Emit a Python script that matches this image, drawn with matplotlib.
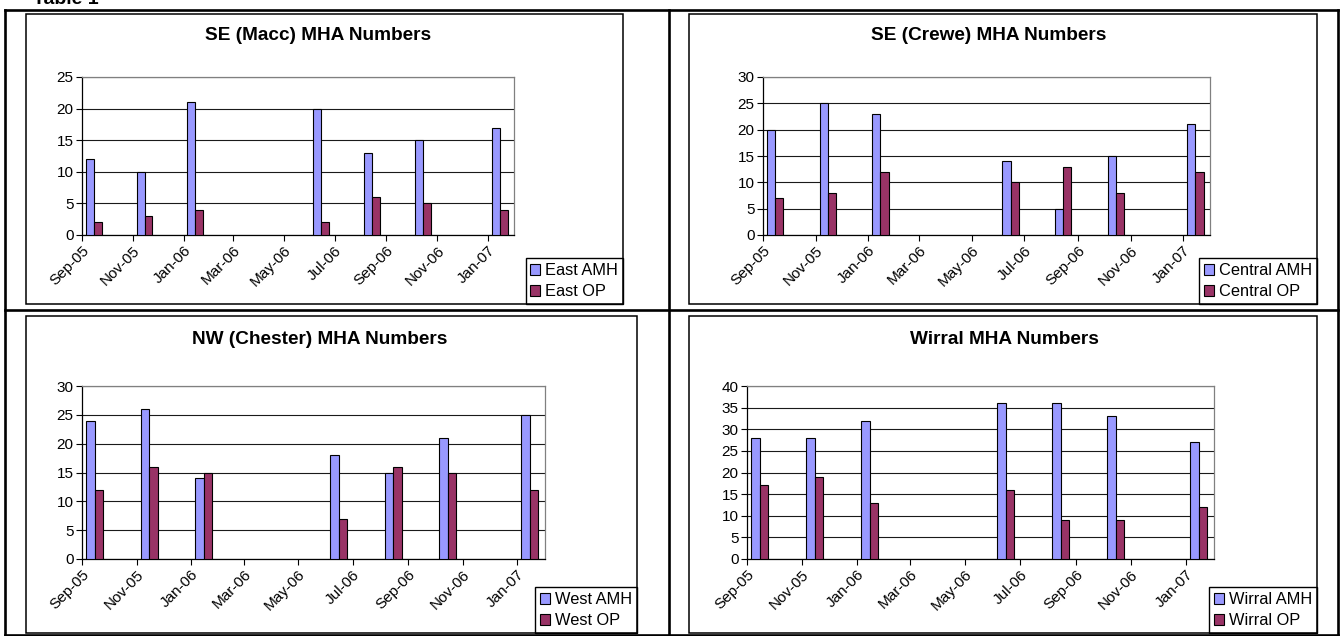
import matplotlib
matplotlib.use('Agg')
import matplotlib.pyplot as plt
import matplotlib.dates as mdates
from matplotlib.patches import Rectangle
from matplotlib.lines import Line2D
import numpy as np

plt.rcParams['font.family'] = ['Liberation Sans', 'DejaVu Sans']

# data (one reading per period, plotted on a monthly date axis)
dates = ['2005-09-15', '2005-11-15', '2006-01-15', '2006-06-15',
         '2006-08-15', '2006-10-15', '2007-01-15']

east_amh = [12, 10, 21, 20, 13, 15, 17]
east_op = [2, 3, 4, 2, 6, 5, 4]
central_amh = [20, 25, 23, 14, 5, 15, 21]
central_op = [7, 8, 12, 10, 13, 8, 12]
west_amh = [24, 26, 14, 18, 15, 21, 25]
west_op = [12, 16, 15, 7, 16, 15, 12]
wirral_amh = [28, 28, 32, 36, 36, 33, 27]
wirral_op = [17, 19, 13, 16, 9, 9, 12]

titles = ['SE (Macc) MHA Numbers', 'SE (Crewe) MHA Numbers',
          'NW (Chester) MHA Numbers', 'Wirral MHA Numbers']
series_names = [('East AMH', 'East OP'), ('Central AMH', 'Central OP'),
                ('West AMH', 'West OP'), ('Wirral AMH', 'Wirral OP')]
y_max = [25, 30, 30, 40]

W, H = 1342, 636

# layout in pixels: plot area (x0, y0, x1, y1), chart box, legend corner, title centre
layout = [
    dict(plot=(82, 77, 514, 235), box=(26, 14, 623, 304), leg=(623, 304), title=(318, 36)),
    dict(plot=(763, 77, 1210, 235), box=(689, 14, 1317, 304), leg=(1317, 304), title=(989, 36)),
    dict(plot=(82, 386, 545, 559), box=(26, 316, 637, 633), leg=(637, 633), title=(320, 340)),
    dict(plot=(747, 386, 1214, 559), box=(689, 316, 1317, 633), leg=(1317, 633), title=(1004, 340)),
]

values = [(east_amh, east_op), (central_amh, central_op),
          (west_amh, west_op), (wirral_amh, wirral_op)]

BLUE = '#9999FF'
PLUM = '#993366'

fig = plt.figure(figsize=(W / 100, H / 100), dpi=100)


def fx(px):
    return px / W


def fy(py):
    return 1 - py / H


# outer table lines
for (x0, y0, x1, y1) in [(5, 10, 1338, 10), (5, 310, 1338, 310), (5, 635, 1338, 635),
                         (5, 10, 5, 636), (669, 10, 669, 636), (1338, 10, 1338, 636)]:
    fig.add_artist(Line2D([fx(x0), fx(x1)], [fy(y0), fy(y1)], color='black',
                          lw=1.9, transform=fig.transFigure))

# heading above the table, cut off by the top edge as in the source page
fig.text(fx(33), fy(4), 'Table 1', fontsize=14, fontweight='bold',
         va='baseline', ha='left')

x = mdates.date2num(np.array(dates, dtype='datetime64[D]'))
w = 9.5  # bar width in days

for i in range(4):
    lay = layout[i]
    bx0, by0, bx1, by1 = lay['box']
    fig.add_artist(Rectangle((fx(bx0), fy(by1)), fx(bx1 - bx0), (by1 - by0) / H,
                             fill=False, edgecolor='black', lw=1.1,
                             transform=fig.transFigure))

    px0, py0, px1, py1 = lay['plot']
    ax = fig.add_axes([fx(px0), fy(py1), fx(px1 - px0), (py1 - py0) / H])
    amh, op = values[i]
    n1, n2 = series_names[i]
    ax.bar(x - w, amh, w, align='edge', color=BLUE, edgecolor='black', lw=0.8,
           label=n1, zorder=3)
    ax.bar(x, op, w, align='edge', color=PLUM, edgecolor='black', lw=0.8,
           label=n2, zorder=3)

    ax.set_ylim(0, y_max[i])
    ax.set_yticks(np.arange(0, y_max[i] + 1, 5))
    ax.yaxis.grid(True, color='#1a1a1a', lw=0.8, zorder=0)
    ax.set_xlim(mdates.date2num(np.datetime64('2005-09-01')),
                mdates.date2num(np.datetime64('2007-02-01')))
    ax.xaxis.set_major_locator(mdates.MonthLocator(bymonth=[1, 3, 5, 7, 9, 11]))
    ax.xaxis.set_major_formatter(mdates.DateFormatter('%b-%y'))
    ax.tick_params(axis='both', direction='out', length=4, width=0.8,
                   labelsize=11, colors='black', pad=2)
    for lbl in ax.get_xticklabels():
        lbl.set_rotation(45)
        lbl.set_ha('right')
        lbl.set_rotation_mode('anchor')
    ax.spines['top'].set_color('#808080')
    ax.spines['right'].set_color('#808080')
    for s in ax.spines.values():
        s.set_linewidth(0.9)

    lx, ly = lay['leg']
    leg = ax.legend(loc='lower right', bbox_to_anchor=(fx(lx), fy(ly)),
                    bbox_transform=fig.transFigure, fontsize=11.8,
                    frameon=True, fancybox=False, framealpha=1,
                    edgecolor='black', borderpad=0.3, labelspacing=0.35,
                    handlelength=0.6, handleheight=0.6, handletextpad=0.3,
                    borderaxespad=0)
    leg.get_frame().set_linewidth(1.0)

    tx, ty = lay['title']
    fig.text(fx(tx), fy(ty), titles[i], fontsize=13.7, fontweight='bold',
             ha='center', va='center')

fig.savefig('out.png', dpi=100)
